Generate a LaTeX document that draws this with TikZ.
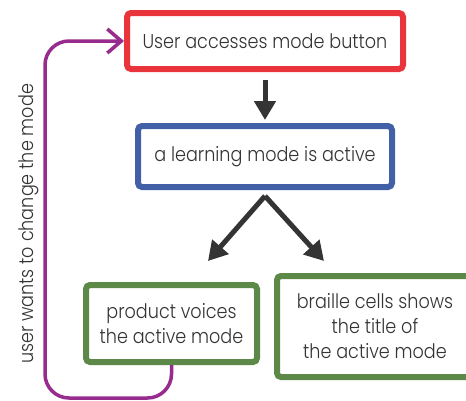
\documentclass[tikz,border=0pt]{standalone}
\usepackage{fontspec}
\setmainfont{Poppins}[UprightFont=* Light, FakeStretch=0.88]
\usetikzlibrary{arrows.meta}
\definecolor{boxred}{RGB}{234,52,60}
\definecolor{boxblue}{RGB}{66,96,166}
\definecolor{boxgreen}{RGB}{92,136,72}
\definecolor{loopviolet}{RGB}{152,44,142}
\definecolor{inkgray}{RGB}{52,52,52}
\tikzset{
  stepbox/.style={draw, line width=6pt, rounded corners=4pt, inner sep=0pt,
    align=center, text=inkgray, fill=white,
    font=\fontsize{20}{25}\selectfont},
  flowarrow/.style={draw=inkgray, line width=5pt,
    -{Triangle[length=19pt,width=21pt]}},
  looparrow/.style={draw=loopviolet, line width=3.5pt, rounded corners=24pt,
    -{Straight Barb[length=14pt,width=24pt,line width=3.5pt]}},
}
\begin{document}
\begin{tikzpicture}[x=1pt,y=-1pt]
  \clip (0,0) rectangle (466,400);
  \fill[white] (0,0) rectangle (466,400);

  % boxes
  \node[stepbox, draw=boxred, minimum width=276pt, minimum height=56pt]
    (access) at (265,41) {User accesses mode button};
  \node[stepbox, draw=boxblue, minimum width=254pt, minimum height=61pt]
    (active) at (265,156.5) {a learning mode is active};
  \node[stepbox, draw=boxgreen, minimum width=171pt, minimum height=77pt]
    (voice) at (171.5,323.5) {product voices\\the active mode};
  \node[stepbox, draw=boxgreen, minimum width=196pt, minimum height=101pt]
    (braille) at (375,326.5) {braille cells shows\\the title of\\the active mode};

  % flow arrows
  \draw[flowarrow, shorten <=8pt, shorten >=3pt] (access.south) -- (active.north);
  \coordinate (fork) at (265,196);
  \coordinate (voiceend) at (208,261);
  \coordinate (brailleend) at (324,261);
  \draw[flowarrow] (fork) -- (voiceend);
  \draw[flowarrow] (fork) -- (brailleend);

  % loop back to the mode button
  \draw[looparrow] (voice.south) |- (45,398) |- (access.west);
  \node[rotate=90, anchor=base, text=inkgray, font=\fontsize{20}{22}\selectfont]
    (change) at (33,224) {user wants to change the mode};
\end{tikzpicture}
\end{document}
